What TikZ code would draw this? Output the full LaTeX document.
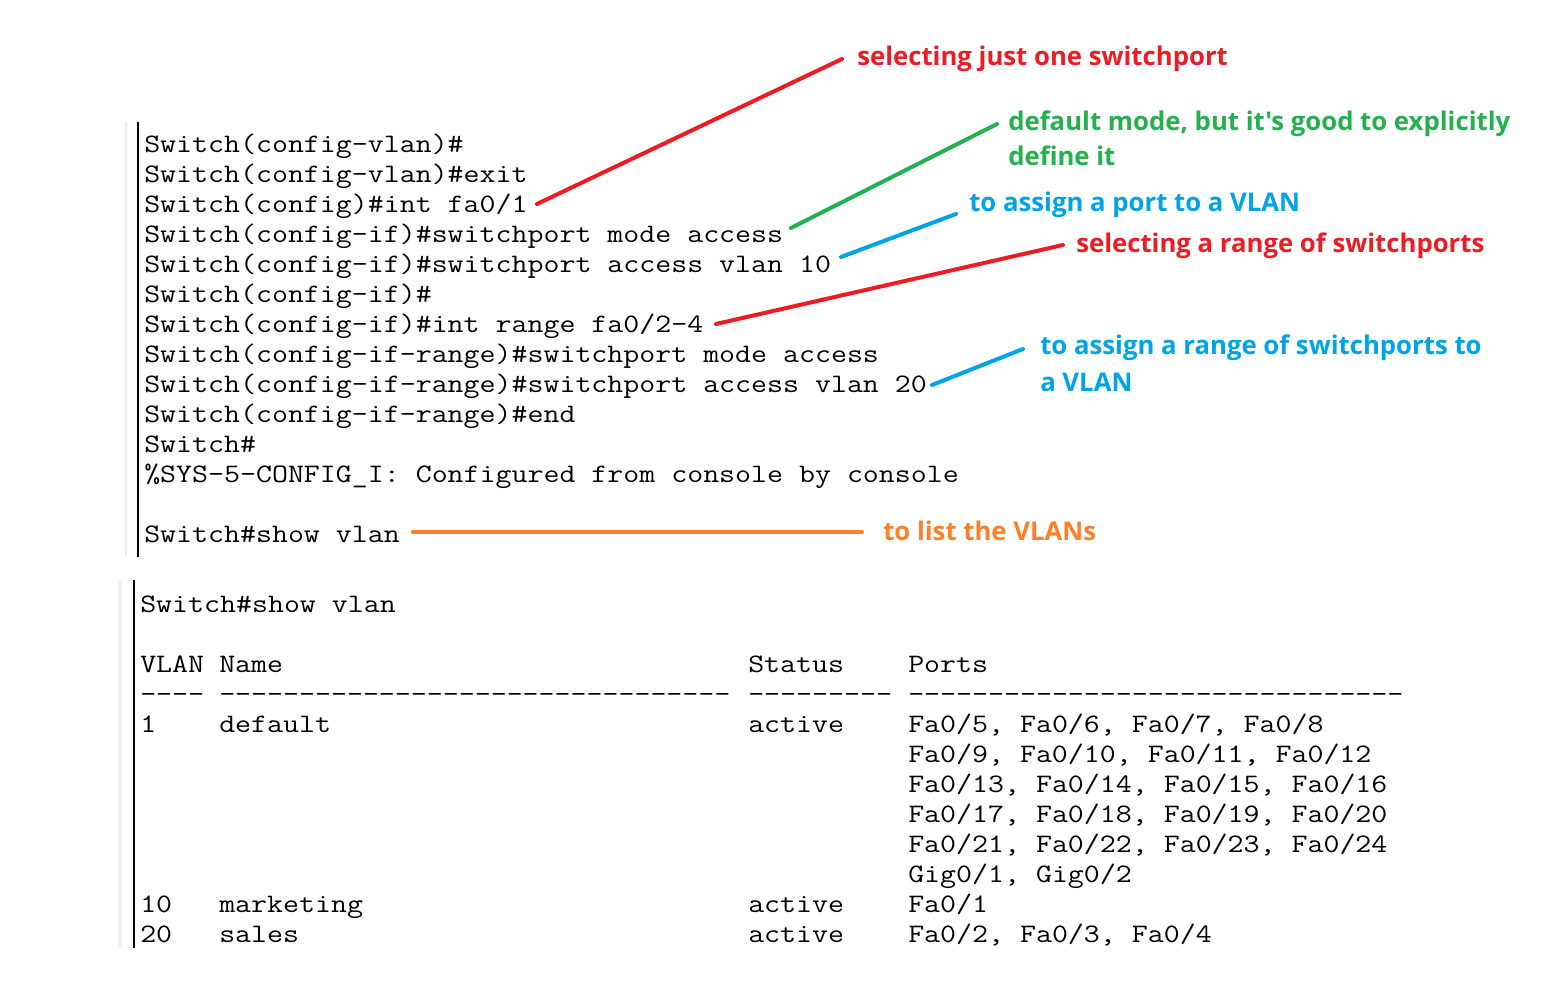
\documentclass[tikz,border=0pt]{standalone}
\usepackage{fontspec}
\newfontfamily\term{Latin Modern Mono}[FakeStretch=1.163,WordSpace={1,0,0}]
\newfontfamily\notefont{Open Sans}
\definecolor{pRed}{HTML}{ED1C24}
\definecolor{pGreen}{HTML}{22B14C}
\definecolor{pBlue}{HTML}{00A2E8}
\definecolor{pOrange}{HTML}{FF7F27}
\definecolor{barGray}{HTML}{EEEEEE}
\begin{document}
\begin{tikzpicture}[x=0.75pt,y=-0.75pt,
  code/.style={anchor=base west,inner sep=0pt,font=\term\fontsize{20}{24}\selectfont},
  ann/.style={anchor=base west,inner sep=0pt,font=\notefont\bfseries\fontsize{19.3}{23}\selectfont},
  link/.style={line width=3pt,line cap=round}]
\useasboundingbox[fill=white] (0,0) rectangle (1550,1006);
% side bars
\fill[barGray] (124.5,122) rectangle (126.5,557);
\fill[black] (136.5,122) rectangle (138.5,557);
\fill[barGray] (118,580) rectangle (121.5,948);
\fill[black] (132.5,580) rectangle (134.5,948);
% upper console
\node[code] (u1) at (144,152) {Switch(config-vlan)\#};
\node[code] (u2) at (144,182) {Switch(config-vlan)\#exit};
\node[code] (u3) at (144,212) {Switch(config)\#int fa0/1};
\node[code] (u4) at (144,242) {Switch(config-if)\#switchport mode access};
\node[code] (u5) at (144,272) {Switch(config-if)\#switchport access vlan 10};
\node[code] (u6) at (144,302) {Switch(config-if)\#};
\node[code] (u7) at (144,332) {Switch(config-if)\#int range fa0/2-4};
\node[code] (u8) at (144,362) {Switch(config-if-range)\#switchport mode access};
\node[code] (u9) at (144,392) {Switch(config-if-range)\#switchport access vlan 20};
\node[code] (u10) at (144,422) {Switch(config-if-range)\#end};
\node[code] (u11) at (144,452) {Switch\#};
\node[code] (u12) at (144,482) {\%SYS-5-CONFIG\_I: Configured from console by console};
\node[code] (u13) at (144,542) {Switch\#show vlan};
% lower console
\node[code] (s0) at (140,612) {Switch\#show vlan};
\node[code] (h1) at (140,672) {VLAN};
\node[code] (h2) at (219,672) {Name};
\node[code] (h3) at (748,672) {Status};
\node[code] (h4) at (908,672) {Ports};
\node[code] (d1) at (140,702) {----};
\node[code] (d2) at (219,702) {--------------------------------};
\node[code] (d3) at (748,702) {---------};
\node[code] (d4) at (908,702) {-------------------------------};
\node[code] (r1a) at (140,732) {1};
\node[code] (r1b) at (219,732) {default};
\node[code] (r1c) at (748,732) {active};
\node[code] (r1d) at (908,732) {Fa0/5, Fa0/6, Fa0/7, Fa0/8};
\node[code] (r1e) at (908,762) {Fa0/9, Fa0/10, Fa0/11, Fa0/12};
\node[code] (r1f) at (908,792) {Fa0/13, Fa0/14, Fa0/15, Fa0/16};
\node[code] (r1g) at (908,822) {Fa0/17, Fa0/18, Fa0/19, Fa0/20};
\node[code] (r1h) at (908,852) {Fa0/21, Fa0/22, Fa0/23, Fa0/24};
\node[code] (r1i) at (908,882) {Gig0/1, Gig0/2};
\node[code] (r2a) at (140,912) {10};
\node[code] (r2b) at (219,912) {marketing};
\node[code] (r2c) at (748,912) {active};
\node[code] (r2d) at (908,912) {Fa0/1};
\node[code] (r3a) at (140,942) {20};
\node[code] (r3b) at (219,942) {sales};
\node[code] (r3c) at (748,942) {active};
\node[code] (r3d) at (908,942) {Fa0/2, Fa0/3, Fa0/4};
% annotations
\node[ann,text=pRed] (a1) at (857,66) {selecting just one switchport};
\node[ann,text=pGreen] (a2) at (1008,130) {default mode, but it's good to explicitly};
\node[ann,text=pGreen] (a2b) at (1008,166) {define it};
\node[ann,text=pBlue] (a3) at (969,211) {to assign a port to a VLAN};
\node[ann,text=pRed] (a4) at (1076,252) {selecting a range of switchports};
\node[ann,text=pBlue] (a5) at (1040,354) {to assign a range of switchports to};
\node[ann,text=pBlue] (a5b) at (1040,391) {a VLAN};
\node[ann,text=pOrange] (a6) at (883,540) {to list the VLANs};
% connector ends
\coordinate (c1s) at (537,204); \coordinate (c1e) at (842,59);
\coordinate (c2s) at (791,228); \coordinate (c2e) at (997,124);
\coordinate (c3s) at (841,257); \coordinate (c3e) at (956,214);
\coordinate (c4s) at (716,324); \coordinate (c4e) at (1063,245);
\coordinate (c5s) at (932,385); \coordinate (c5e) at (1023,349);
\coordinate (c6s) at (413,532); \coordinate (c6e) at (862,532);
\draw[link,pRed] (c1s) -- (c1e);
\draw[link,pGreen] (c2s) -- (c2e);
\draw[link,pBlue] (c3s) -- (c3e);
\draw[link,pRed] (c4s) -- (c4e);
\draw[link,pBlue] (c5s) -- (c5e);
\draw[link,pOrange] (c6s) -- (c6e);
\end{tikzpicture}
\end{document}
